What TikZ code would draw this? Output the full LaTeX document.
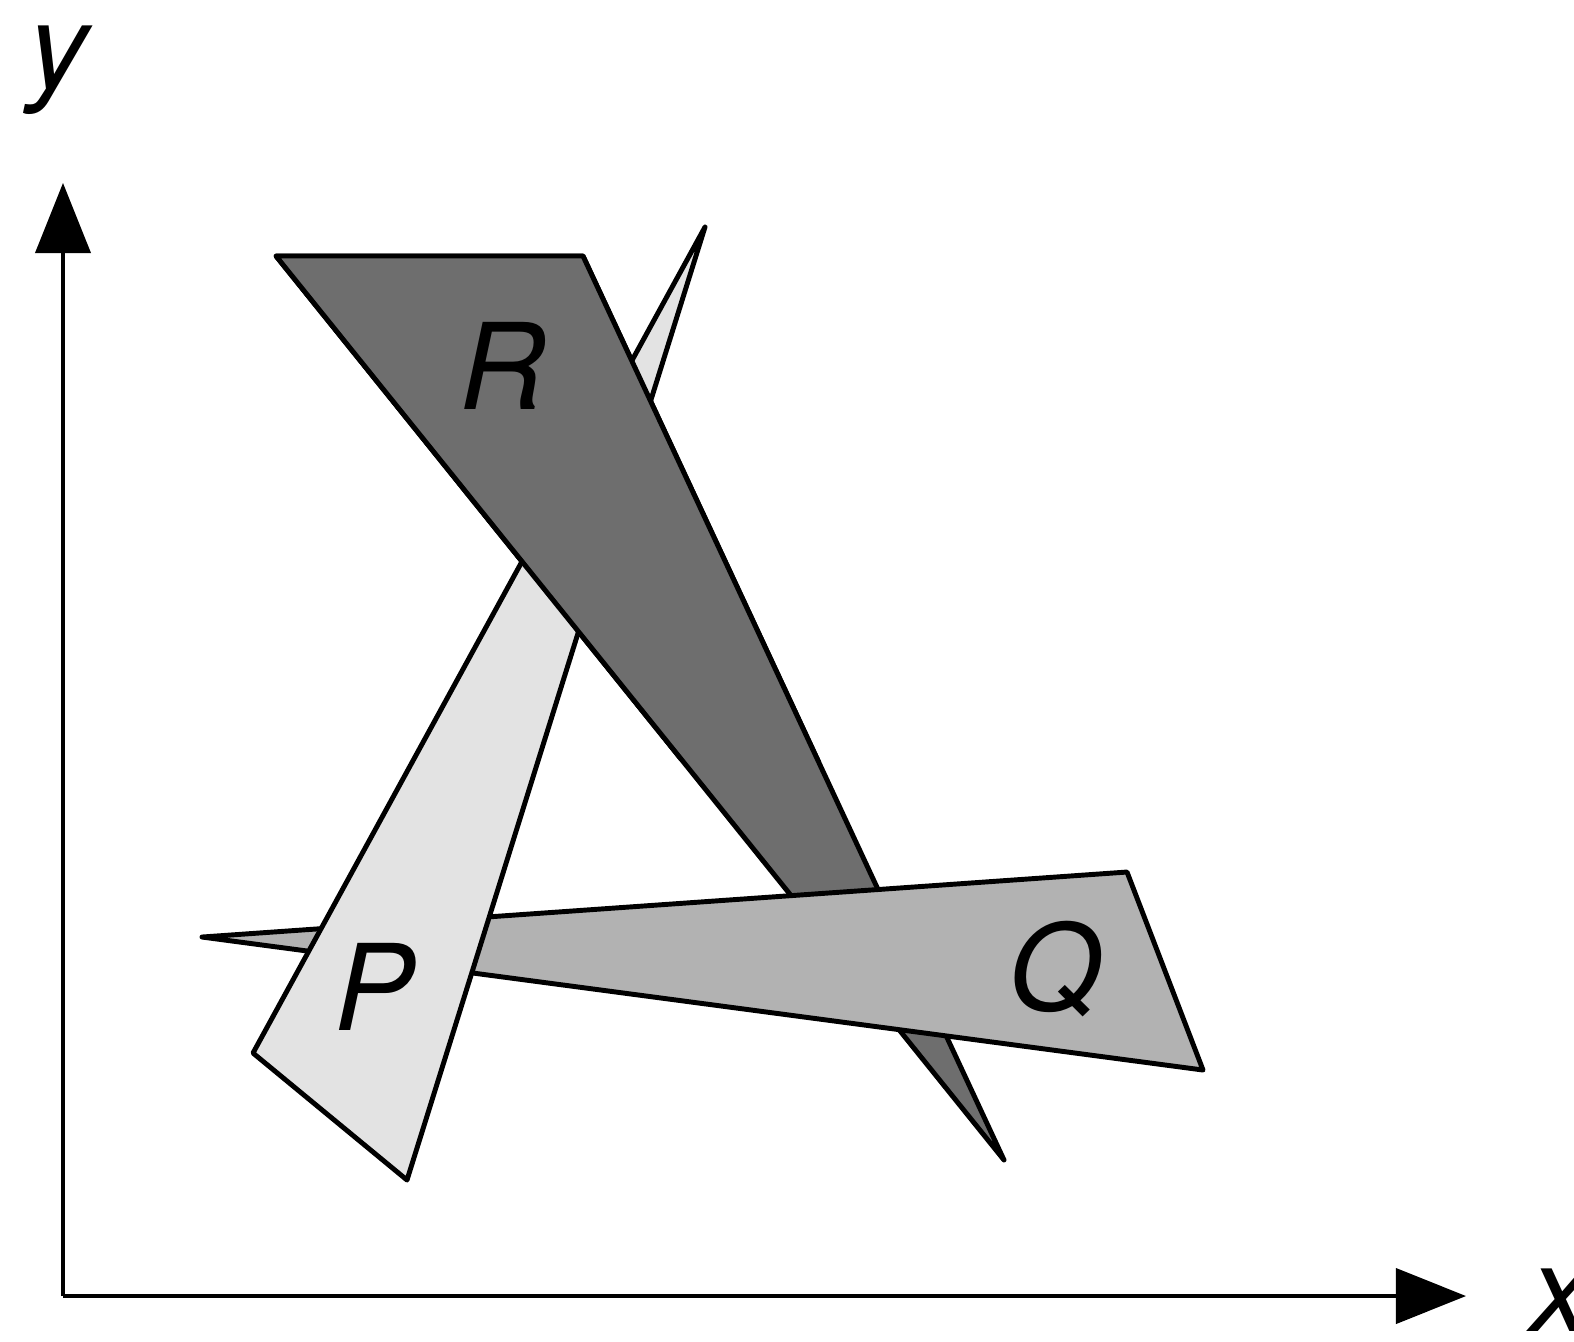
\documentclass[tikz,border=0pt]{standalone}
\usepackage{fontspec}
\setmainfont{TeX Gyre Heros}
\usetikzlibrary{arrows.meta,positioning}

\tikzset{
  tri/.style={draw=black,line width=1.4pt,line join=round},
  lbl/.style={font=\fontsize{34}{34}\selectfont\itshape,inner sep=0pt},
  axis/.style={line width=1.1pt,-{Triangle[length=0.7cm,width=0.55cm]}}
}

\begin{document}
\begin{tikzpicture}[x=0.01cm,y=-0.01cm]
  \useasboundingbox (0,0) rectangle (1574,1341);
  \fill[white] (0,0) rectangle (1574,1341);
  % axes
  \coordinate (o) at (63,1296);
  \coordinate (ytip) at (63,183);
  \coordinate (xtip) at (1466,1296);
  \draw[axis] (o) -- (ytip);
  \draw[axis] (o) -- (xtip);
  \node[lbl] (ylab) at (58,70) {y};
  \node[lbl] (xlab) at (1560,1300) {x};
  % the three triangles, cyclic overlap
  \draw[tri,fill=black!57] (276,256) -- (583,256) -- (1004,1160) -- cycle;
  \draw[tri,fill=black!30] (202,937) -- (1127,872) -- (1203,1070) -- cycle;
  \draw[tri,fill=black!11] (253,1053) -- (407,1180) -- (705,227) -- cycle;
  \begin{scope}
    \clip (0,0) rectangle (1574,760);
    \draw[tri,fill=black!57] (276,256) -- (583,256) -- (1004,1160) -- cycle;
  \end{scope}
  \node[lbl] (r) at (503,366) {R};
  \node[lbl] (p) at (374,987) {P};
  \node[lbl] (q) at (1055,969) {Q};
\end{tikzpicture}
\end{document}
